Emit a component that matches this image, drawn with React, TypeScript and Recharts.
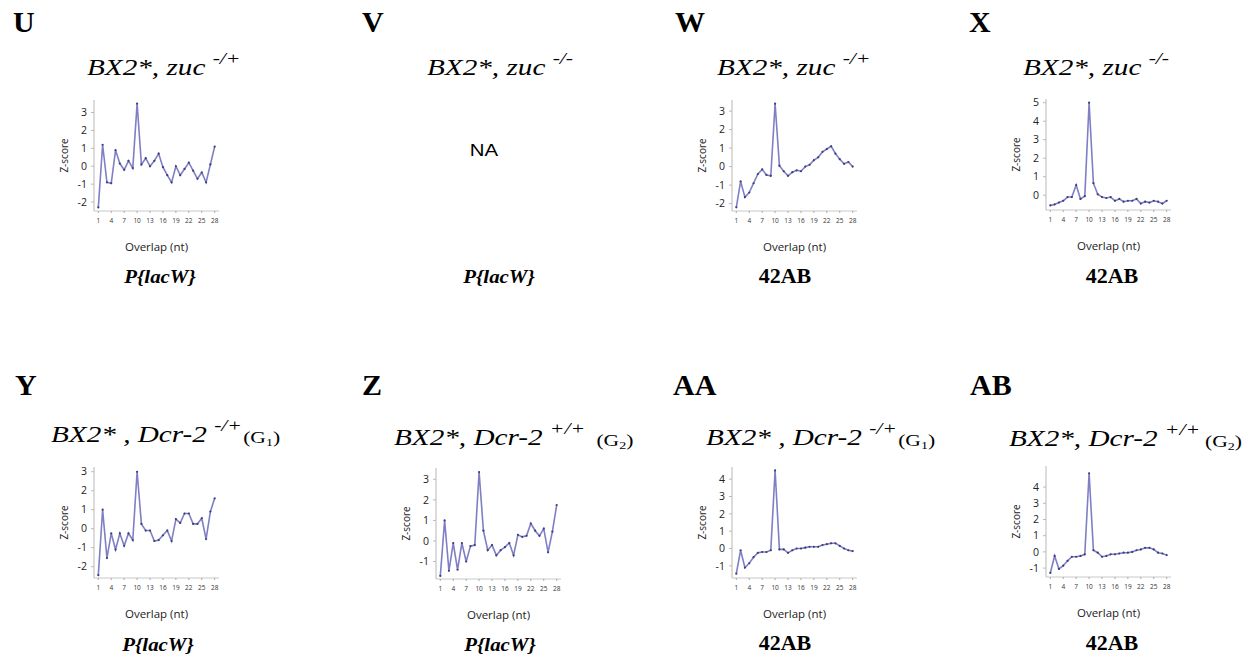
import React from "react";
import { LineChart, Line, XAxis, YAxis, ReferenceArea } from "recharts";

// overlap length (nt) on the x axis
const overlap = [
  1, 2, 3, 4, 5, 6, 7, 8, 9, 10, 11, 12, 13, 14, 15, 16, 17, 18, 19, 20, 21,
  22, 23, 24, 25, 26, 27, 28,
];
const xTicks = [1, 4, 7, 10, 13, 16, 19, 22, 25, 28];

// Z-scores
const zucHetLacW = [
  -2.3, 1.2, -0.9, -0.95, 0.9, 0.15, -0.2, 0.3, -0.1, 3.5, 0.1, 0.45, 0, 0.3,
  0.7, -0.05, -0.5, -0.9, 0, -0.5, -0.15, 0.2, -0.25, -0.7, -0.35, -0.9, 0.1,
  1.1,
];
const zucHet42AB = [
  -2.2, -0.8, -1.65, -1.4, -0.9, -0.4, -0.15, -0.45, -0.5, 3.4, 0.05, -0.25,
  -0.5, -0.3, -0.2, -0.25, 0, 0.1, 0.35, 0.5, 0.8, 0.95, 1.1, 0.7, 0.4, 0.15,
  0.25, 0,
];
const zucMut42AB = [
  -0.55, -0.5, -0.4, -0.3, -0.1, -0.1, 0.55, -0.2, -0.05, 5.0, 0.65, 0.05,
  -0.1, -0.15, -0.1, -0.3, -0.2, -0.35, -0.3, -0.3, -0.2, -0.45, -0.35, -0.4,
  -0.3, -0.35, -0.45, -0.3,
];
const dcrG1LacW = [
  -2.45, 1.0, -1.55, -0.25, -1.1, -0.25, -0.9, -0.25, -0.6, 3.0, 0.25, -0.1,
  -0.1, -0.65, -0.6, -0.35, -0.1, -0.65, 0.5, 0.3, 0.8, 0.8, 0.25, 0.25, 0.55,
  -0.55, 0.9, 1.6,
];
const dcrG2LacW = [
  -1.7, 1.0, -1.45, -0.1, -1.4, -0.1, -1.0, -0.25, -0.2, 3.35, 0.5, -0.45,
  -0.2, -0.7, -0.45, -0.3, -0.1, -0.7, 0.3, 0.2, 0.25, 0.85, 0.5, 0.25, 0.6,
  -0.55, 0.45, 1.75,
];
const dcrG142AB = [
  -1.45, -0.1, -1.1, -0.85, -0.5, -0.25, -0.2, -0.2, -0.1, 4.5, -0.05, -0.05,
  -0.25, -0.1, 0, 0, 0.05, 0.1, 0.1, 0.1, 0.2, 0.25, 0.3, 0.3, 0.15, 0, -0.1,
  -0.15,
];
const dcrG242AB = [
  -1.3, -0.25, -1.05, -0.85, -0.55, -0.3, -0.3, -0.25, -0.15, 4.85, 0.1,
  -0.05, -0.3, -0.25, -0.15, -0.15, -0.1, -0.05, -0.05, 0, 0.1, 0.15, 0.25,
  0.25, 0.15, -0.05, -0.1, -0.2,
];

const PLOT_W = 125;
const PLOT_H = 111;
const Y_AXIS_W = 40;
const X_AXIS_H = 45;
const TOP_PAD = 8;
const SX = 1.27; // titles in the figure are stretched sideways
const SERIF = "'Liberation Serif', 'Times New Roman', serif";
const SANS = "'Open Sans', 'Liberation Sans', sans-serif";

interface PlotProps {
  values: number[];
  domain: [number, number];
  ticks: number[];
  left: number;
  top: number;
}

const ZPlot: React.FC<PlotProps> = ({ values, domain, ticks, left, top }) => {
  const rows = overlap.map((o, i) => ({ overlap: o, z: values[i] }));
  return (
    <div style={{ position: "absolute", left: left - Y_AXIS_W, top: top - TOP_PAD, fontFamily: SANS }}>
      <LineChart
        width={PLOT_W + Y_AXIS_W}
        height={PLOT_H + X_AXIS_H + TOP_PAD}
        data={rows}
        margin={{ top: TOP_PAD, right: 0, bottom: 0, left: 0 }}
      >
        <ReferenceArea fill="none" stroke="#d4d4d4" ifOverflow="visible" />
        <XAxis
          dataKey="overlap"
          type="number"
          domain={[0, 29]}
          ticks={xTicks}
          interval={0}
          height={X_AXIS_H}
          tick={{ fontSize: 6.5, fill: "#333" }}
          tickSize={2}
          tickMargin={5}
          axisLine={{ stroke: "#c8c8c8" }}
          tickLine={{ stroke: "#aaa" }}
          label={{
            value: "Overlap (nt)",
            position: "insideBottom",
            offset: 5,
            fontSize: 11.5,
            fill: "#222",
          }}
        />
        <YAxis
          type="number"
          domain={domain}
          ticks={ticks}
          interval={0}
          width={Y_AXIS_W}
          allowDataOverflow
          tick={{ fontSize: 10.5, fill: "#222" }}
          tickSize={3}
          tickMargin={4}
          axisLine={{ stroke: "#b8b8b8" }}
          tickLine={{ stroke: "#bbb" }}
          label={{
            value: "Z-score",
            angle: -90,
            position: "insideLeft",
            offset: 10,
            fontSize: 10,
            fill: "#222",
            style: { textAnchor: "middle" },
          }}
        />
        <Line
          dataKey="z"
          stroke="#7f7fc6"
          strokeWidth={1.6}
          dot={{ r: 1.1, fill: "#3d3d7a", stroke: "none" }}
          isAnimationActive={false}
        />
      </LineChart>
    </div>
  );
};

const Letter = ({ x, y, t }: { x: number; y: number; t: string }) => (
  <text x={x} y={y} style={{ fontFamily: SERIF, fontWeight: "bold", fontSize: 30 }} fill="#000">
    {t}
  </text>
);

const Title = ({
  x,
  y,
  pre,
  sup,
  g,
  tailDx = 0,
}: {
  x: number;
  y: number;
  pre: string;
  sup: string;
  g?: string;
  tailDx?: number;
}) => (
  <g transform={`translate(${x} ${y}) scale(${SX} 1)`}>
    <text x={0} y={0} fill="#000" style={{ whiteSpace: "pre", fontFamily: SERIF, fontStyle: "italic", fontSize: 23 }}>
      {pre}
      <tspan dy={-11} style={{ fontSize: 17 }}>
        {sup}
      </tspan>
      {g ? (
        <>
          <tspan dy={12} dx={tailDx} style={{ fontStyle: "normal", fontSize: 17 }}>
            (G
          </tspan>
          <tspan dy={3} style={{ fontStyle: "normal", fontSize: 11 }}>
            {g}
          </tspan>
          <tspan dy={-3} style={{ fontStyle: "normal", fontSize: 17 }}>
            )
          </tspan>
        </>
      ) : null}
    </text>
  </g>
);

const Footer = ({ x, y, t, italic }: { x: number; y: number; t: string; italic?: boolean }) => (
  <g transform={`translate(${x} ${y}) scale(1.1 1)`}>
    <text
      x={0}
      y={0}
      textAnchor="middle"
      fill="#000"
      style={{
        fontFamily: SERIF,
        fontWeight: "bold",
        fontStyle: italic ? "italic" : "normal",
        fontSize: italic ? 19 : 20,
      }}
    >
      {t}
    </text>
  </g>
);

export default function App() {
  return (
    <div
      style={{
        position: "absolute",
        left: 0,
        top: 0,
        width: 1260,
        height: 660,
        background: "#fff",
        fontFamily: SANS,
      }}
    >
      <svg width={1260} height={660} style={{ position: "absolute", left: 0, top: 0 }}>
        <Letter x={13} y={32} t="U" />
        <Letter x={362} y={32} t="V" />
        <Letter x={675} y={32} t="W" />
        <Letter x={969} y={32} t="X" />
        <Letter x={15} y={395} t="Y" />
        <Letter x={362} y={395} t="Z" />
        <Letter x={673} y={395} t="AA" />
        <Letter x={970} y={395} t="AB" />

        <Title x={87} y={75} pre="BX2*, zuc " sup="-/+" />
        <Title x={427} y={75} pre="BX2*, zuc " sup="-/-" />
        <Title x={717} y={75} pre="BX2*, zuc " sup="-/+" />
        <Title x={1023} y={75} pre="BX2*, zuc " sup="-/-" />
        <Title x={51} y={442} pre="BX2* , Dcr-2 " sup="-/+" g="1" tailDx={1} />
        <Title x={394} y={445} pre="BX2*, Dcr-2 " sup="+/+" g="2" tailDx={9} />
        <Title x={706} y={445} pre="BX2* , Dcr-2 " sup="-/+" g="1" tailDx={1} />
        <Title x={1009} y={446} pre="BX2*, Dcr-2 " sup="+/+" g="2" tailDx={4} />

        <g transform="translate(484 156) scale(1.2 1)">
          <text x={0} y={0} textAnchor="middle" fill="#000" style={{ fontFamily: "'Liberation Sans', sans-serif", fontSize: 17 }}>
            NA
          </text>
        </g>

        <Footer x={160} y={283} t="P{lacW}" italic />
        <Footer x={499} y={283} t="P{lacW}" italic />
        <Footer x={785} y={283} t="42AB" />
        <Footer x={1112} y={283} t="42AB" />
        <Footer x={158} y={651} t="P{lacW}" italic />
        <Footer x={500} y={651} t="P{lacW}" italic />
        <Footer x={785} y={650} t="42AB" />
        <Footer x={1112} y={650} t="42AB" />
      </svg>

      <ZPlot values={zucHetLacW} domain={[-2.5, 3.7]} ticks={[-2, -1, 0, 1, 2, 3]} left={94} top={100} />
      <ZPlot values={zucHet42AB} domain={[-2.4, 3.6]} ticks={[-2, -1, 0, 1, 2, 3]} left={732} top={100} />
      <ZPlot values={zucMut42AB} domain={[-0.8, 5.2]} ticks={[0, 1, 2, 3, 4, 5]} left={1046} top={99} />
      <ZPlot values={dcrG1LacW} domain={[-2.6, 3.25]} ticks={[-2, -1, 0, 1, 2, 3]} left={94} top={467} />
      <ZPlot values={dcrG2LacW} domain={[-1.85, 3.55]} ticks={[-1, 0, 1, 2, 3]} left={436} top={468} />
      <ZPlot values={dcrG142AB} domain={[-1.7, 4.7]} ticks={[-1, 0, 1, 2, 3, 4]} left={732} top={467} />
      <ZPlot values={dcrG242AB} domain={[-1.55, 5.3]} ticks={[-1, 0, 1, 2, 3, 4]} left={1046} top={466} />
    </div>
  );
}
